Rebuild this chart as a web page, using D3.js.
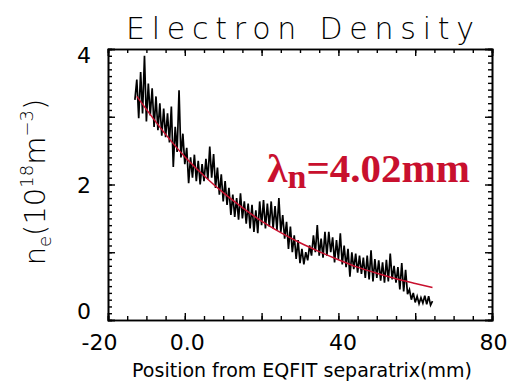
<!DOCTYPE html>
<html>
<head>
<meta charset="utf-8">
<script src="https://cdn.jsdelivr.net/npm/d3@7"></script>
<style>
  body { margin: 0; background: #fff; }
</style>
</head>
<body>
<svg id="chart"></svg>
<script>
// measured profile (position in mm, density in 1e18 m^-3)
const positions = [
  -13, -12.5, -12, -11.5, -11, -10.5, -10, -9.5, -9, -8.5,
  -8, -7.5, -7, -6.5, -6, -5.5, -5, -4.5, -4, -3.5,
  -3, -2.5, -2, -1.5, -1, -0.5, 0, 0.5, 1, 1.5,
  2, 2.5, 3, 3.5, 4, 4.5, 5, 5.5, 6, 6.5,
  7, 7.5, 8, 8.5, 9, 9.5, 10, 10.5, 11, 11.5,
  12, 12.5, 13, 13.5, 14, 14.5, 15, 15.5, 16, 16.5,
  17, 17.5, 18, 18.5, 19, 19.5, 20, 20.5, 21, 21.5,
  22, 22.5, 23, 23.5, 24, 24.5, 25, 25.5, 26, 26.5,
  27, 27.5, 28, 28.5, 29, 29.5, 30, 30.5, 31, 31.5,
  32, 32.5, 33, 33.5, 34, 34.5, 35, 35.5, 36, 36.5,
  37, 37.5, 38, 38.5, 39, 39.5, 40, 40.5, 41, 41.5,
  42, 42.5, 43, 43.5, 44, 44.5, 45, 45.5, 46, 46.5,
  47, 47.5, 48, 48.5, 49, 49.5, 50, 50.5, 51, 51.5,
  52, 52.5, 53, 53.5, 54, 54.5, 55, 55.5, 56, 56.5,
  57, 57.5, 58, 58.5, 59, 59.5, 60, 60.5, 61, 61.5,
  62, 62.5, 63, 63.5, 64, 64.5
];
const density = [
  3.25, 3.55, 2.98, 3.66, 3.05, 3.90, 2.93, 3.49, 3.02, 3.42,
  2.85, 3.30, 2.80, 3.20, 2.72, 3.12, 2.70, 3.05, 2.62, 3.15,
  2.26, 2.85, 2.48, 3.39, 2.40, 2.75, 2.30, 2.54, 2.02, 2.40,
  2.10, 2.44, 2.05, 2.35, 2.00, 2.30, 2.05, 2.38, 2.08, 2.56,
  2.10, 2.45, 1.95, 2.25, 1.85, 2.15, 1.75, 2.05, 1.70, 1.95,
  1.55, 1.85, 1.52, 1.80, 1.48, 1.87, 1.50, 1.75, 1.42, 1.72,
  1.35, 1.70, 1.30, 1.62, 1.28, 1.75, 1.40, 1.77, 1.35, 1.72,
  1.38, 1.75, 1.35, 1.68, 1.33, 1.80, 1.30, 1.55, 1.20, 1.45,
  1.05, 1.38, 1.00, 1.25, 0.90, 1.18, 0.84, 1.05, 0.82, 1.00,
  0.88, 1.10, 0.95, 1.25, 1.00, 1.40, 0.95, 1.20, 0.92, 1.30,
  0.95, 1.30, 1.00, 1.22, 0.85, 1.18, 0.90, 1.28, 0.82, 1.10,
  0.78, 1.05, 0.64, 1.00, 0.75, 0.98, 0.70, 0.95, 0.68, 0.92,
  0.62, 0.95, 0.60, 1.03, 0.57, 0.90, 0.62, 0.88, 0.58, 0.85,
  0.55, 0.89, 0.57, 0.98, 0.60, 0.80, 0.55, 0.78, 0.45, 0.84,
  0.42, 0.74, 0.38, 0.45, 0.30, 0.40, 0.26, 0.35, 0.24, 0.33,
  0.25, 0.36, 0.23, 0.35, 0.22, 0.28
];

// exponential fit
const fitPositions = [-12.5, -5, 0, 5, 10, 15, 20, 25, 30, 35, 40, 45, 50, 55, 60, 64.5];
const fitDensity = [3.30, 2.74, 2.41, 2.13, 1.88, 1.66, 1.46, 1.29, 1.14, 1.01, 0.89, 0.78, 0.69, 0.61, 0.54, 0.48];

const xMajor = [-20, 0, 20, 40, 60, 80];
const xLabels = { "-20": "-20", "0": "0.0", "40": "40", "80": "80" };
const yMajor = [0, 1, 2, 3, 4];
const yLabels = { "0": "0", "2": "2", "4": "4" };

const W = 510, H = 385;
const margin = { top: 49, right: 18, bottom: 65, left: 108 };
const width = W - margin.left - margin.right;
const height = H - margin.top - margin.bottom;
const red = "#c8102e";
const sans = "'DejaVu Sans', sans-serif";

const svg = d3.select("#chart").attr("width", W).attr("height", H)
  .attr("font-family", sans);
const g = svg.append("g").attr("transform", "translate(" + margin.left + "," + margin.top + ")");

const x = d3.scaleLinear().domain([-20, 80]).range([0, width]);
const y = d3.scaleLinear().domain([0, 4]).range([height, 0]);

// minor ticks on all four sides
const xMinor = d3.range(-20, 80.01, 5);
const yMinor = d3.range(0, 4.001, 0.1);
function minor(axis) { return axis.tickSize(-4).tickFormat(""); }
g.append("g").attr("transform", "translate(0," + height + ")")
  .call(minor(d3.axisBottom(x).tickValues(xMinor)));
g.append("g")
  .call(minor(d3.axisTop(x).tickValues(xMinor)));
g.append("g")
  .call(minor(d3.axisLeft(y).tickValues(yMinor)));
g.append("g").attr("transform", "translate(" + width + ",0)")
  .call(minor(d3.axisRight(y).tickValues(yMinor)));

// major ticks
const xb = g.append("g").attr("transform", "translate(0," + height + ")")
  .call(d3.axisBottom(x).tickValues(xMajor).tickSize(-7).tickFormat(d => xLabels[d] || ""));
xb.selectAll("text").attr("y", 14).attr("dy", "0.71em")
  .attr("dx", d => d === -20 ? -9 : d === 0 ? 2 : d === 40 ? 4 : 1);
g.append("g").call(d3.axisTop(x).tickValues(xMajor).tickSize(-7).tickFormat(""));

const yl = g.append("g")
  .call(d3.axisLeft(y).tickValues(yMajor).tickSize(-7).tickFormat(d => yLabels[d] || ""));
yl.selectAll("text").attr("x", -17)
  .attr("dy", d => d === 0 ? "-0.08em" : d === 4 ? "0.62em" : "0.38em");
g.append("g").attr("transform", "translate(" + width + ",0)")
  .call(d3.axisRight(y).tickValues(yMajor).tickSize(-7).tickFormat(""));

g.selectAll(".domain").attr("stroke", "#000").attr("stroke-width", 1.6);
g.selectAll(".tick line").attr("stroke", "#000").attr("stroke-width", 1.4);
g.selectAll(".tick text").attr("font-size", 22).attr("fill", "#000")
  .attr("font-family", sans);

// data
const pts = positions.map((p, i) => [p, density[i]]);
g.append("path")
  .datum(pts)
  .attr("fill", "none")
  .attr("stroke", "#000")
  .attr("stroke-width", 1.7)
  .attr("d", d3.line().x(d => x(d[0])).y(d => y(d[1])));

const fit = fitPositions.map((p, i) => [p, fitDensity[i]]);
g.append("path")
  .datum(fit)
  .attr("fill", "none")
  .attr("stroke", red)
  .attr("stroke-width", 1.5)
  .attr("d", d3.line().curve(d3.curveMonotoneX).x(d => x(d[0])).y(d => y(d[1])));

// decay length annotation
const ann = g.append("text")
  .attr("x", x(21.5)).attr("y", y(2.03))
  .attr("fill", red)
  .attr("font-family", "'Liberation Serif', 'Times New Roman', serif")
  .attr("font-weight", "bold")
  .attr("font-size", 41);
ann.append("tspan").text("λ");
ann.append("tspan").attr("font-size", 34).attr("dy", 6).text("n");
ann.append("tspan").attr("dy", -6).text("=4.02mm");

// titles
svg.append("text")
  .attr("x", margin.left + width / 2).attr("y", 39)
  .attr("text-anchor", "middle")
  .attr("font-size", 30)
  .attr("font-weight", 200)
  .attr("textLength", 348).attr("lengthAdjust", "spacing")
  .text("Electron Density");

svg.append("text")
  .attr("x", margin.left + width / 2 + 2).attr("y", 377)
  .attr("text-anchor", "middle")
  .attr("font-size", 19)
  .text("Position from EQFIT separatrix(mm)");

const yt = svg.append("text")
  .attr("transform", "translate(45,182) rotate(-90)")
  .attr("text-anchor", "middle")
  .attr("font-size", 29)
  .attr("font-weight", 200);
yt.append("tspan").text("n");
yt.append("tspan").attr("font-size", 18).attr("dy", 6).text("e");
yt.append("tspan").attr("dy", -6).text("(10");
yt.append("tspan").attr("font-size", 18).attr("dy", -12).text("18");
yt.append("tspan").attr("dy", 12).text("m");
yt.append("tspan").attr("font-size", 18).attr("dy", -12).text("−3");
yt.append("tspan").attr("dy", 12).text(")");
</script>
</body>
</html>
